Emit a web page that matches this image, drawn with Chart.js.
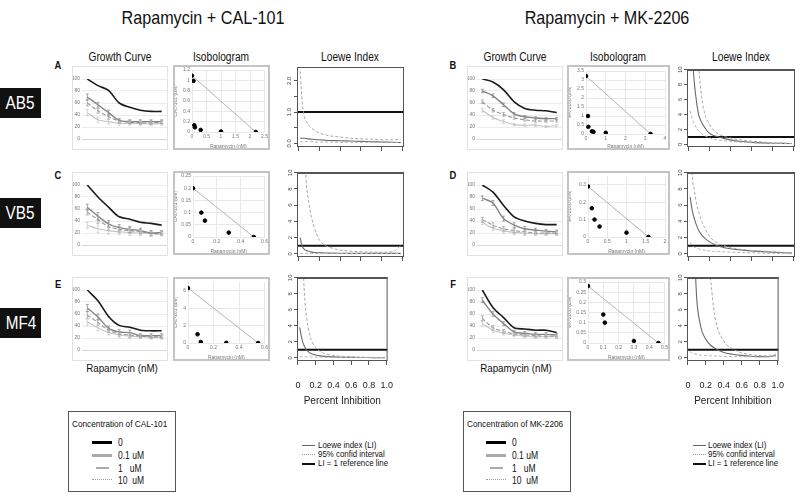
<!DOCTYPE html>
<html>
<head>
<meta charset="utf-8">
<script src="https://cdn.jsdelivr.net/npm/chart.js@4.4.1/dist/chart.umd.min.js"></script>
<style>
  body { margin: 0; width: 800px; height: 494px; position: relative; background: #fff; overflow: hidden;
         font-family: "Liberation Sans", Arial, sans-serif; color: #111; }
  canvas { position: absolute; }
  .t { position: absolute; transform: translate(-50%, -50%) scaleX(0.85); white-space: nowrap; }
  .l { position: absolute; transform: translateY(-50%) scaleX(0.85); transform-origin: left center; white-space: pre; }
  .row { position: absolute; left: 0; width: 41px; height: 30px; background: #111; color: #fff;
         font-size: 18px; line-height: 30px; text-align: center; }
  .row span { display: inline-block; transform: scaleX(0.85); }
  .box { position: absolute; border: 1px solid #555; box-sizing: border-box; }
  .smp { position: absolute; height: 0; }
</style>
</head>
<body>

<div class="t" style="left:203px;top:18px;font-size:19px">Rapamycin + CAL-101</div>
<div class="t" style="left:607px;top:18px;font-size:19px">Rapamycin + MK-2206</div>

<div class="t" style="left:120px;top:57px;font-size:12px">Growth Curve</div>
<div class="t" style="left:221px;top:57px;font-size:12px">Isobologram</div>
<div class="t" style="left:350px;top:57px;font-size:12px">Loewe Index</div>
<div class="t" style="left:515px;top:57px;font-size:12px">Growth Curve</div>
<div class="t" style="left:618px;top:57px;font-size:12px">Isobologram</div>
<div class="t" style="left:741px;top:57px;font-size:12px">Loewe Index</div>

<div class="t" style="left:58px;top:65px;font-size:11px;font-weight:bold">A</div>
<div class="t" style="left:453px;top:65px;font-size:11px;font-weight:bold">B</div>
<div class="t" style="left:58px;top:175px;font-size:11px;font-weight:bold">C</div>
<div class="t" style="left:453px;top:175px;font-size:11px;font-weight:bold">D</div>
<div class="t" style="left:58px;top:284px;font-size:11px;font-weight:bold">E</div>
<div class="t" style="left:453px;top:284px;font-size:11px;font-weight:bold">F</div>

<div class="row" style="top:88px"><span>AB5</span></div>
<div class="row" style="top:198px"><span>VB5</span></div>
<div class="row" style="top:308px"><span>MF4</span></div>

<div class="t" style="left:122px;top:368px;font-size:11.5px">Rapamycin (nM)</div>
<div class="t" style="left:516px;top:368px;font-size:11.5px">Rapamycin (nM)</div>

<div id="legends"></div>

<script>
// growth curve doses (Rapamycin, nM) and y ticks
const doses = ["0", "0.1", "0.3", "1", "3", "10", "30", "100"];
const growthTicks = [0, 20, 40, 60, 80, 100];
const concLabels = ["0", "0.1 uM", "1   uM", "10  uM"];

// growth curves, % of control: CAL-101 0 / 0.1 / 1 / 10 uM
const gA0 = [100, 89, 81, 60, 53, 48, 46, 46];
const gA01 = [70, 57, 44, 31, 29, 29, 29, 29];
const gA1 = [60, 47, 37, 30, 28, 27, 27, 28];
const gA10 = [44, 32, 29, 26, 26, 26, 25, 26];
const errA = [5, 4, 4, 3, 3, 3, 3, 3];

const gC0 = [100, 80, 63, 47, 43, 38, 36, 33];
const gC01 = [63, 48, 35, 29, 26, 24, 20, 21];
const gC1 = [55, 42, 31, 26, 24, 22, 19, 19];
const gC10 = [33, 27, 24, 22, 21, 20, 19, 18];
const errC = [5, 6, 6, 5, 5, 4, 4, 3];

const gE0 = [100, 82, 56, 41, 38, 33, 32, 32];
const gE01 = [70, 55, 36, 30, 29, 24, 24, 24];
const gE1 = [58, 46, 33, 27, 25, 23, 22, 22];
const gE10 = [47, 37, 29, 25, 23, 22, 21, 21];
const errE = [6, 5, 4, 4, 4, 3, 3, 3];

// growth curves, MK-2206 0 / 0.1 / 1 / 10 uM
const gB0 = [100, 95, 82, 62, 51, 48, 47, 44];
const gB01 = [80, 72, 57, 42, 37, 35, 34, 34];
const gB1 = [62, 48, 41, 35, 32, 30, 30, 30];
const gB10 = [48, 36, 29, 24, 23, 23, 21, 22];
const errB = [3, 3, 3, 2, 2, 2, 2, 2];

const gD0 = [100, 88, 66, 47, 40, 36, 34, 34];
const gD01 = [78, 70, 44, 33, 27, 25, 23, 22];
const gD1 = [42, 33, 27, 24, 22, 20, 20, 20];
const gD10 = [38, 28, 24, 21, 20, 19, 19, 19];
const errD = [4, 4, 4, 4, 4, 3, 3, 3];

const gF0 = [100, 71, 54, 37, 35, 33, 33, 29];
const gF01 = [83, 60, 44, 30, 28, 26, 26, 25];
const gF1 = [53, 37, 31, 27, 25, 24, 23, 23];
const gF10 = [44, 33, 28, 25, 23, 22, 22, 22];
const errF = [4, 4, 3, 3, 3, 3, 3, 3];

// isobolograms: Rapamycin (nM) vs second drug (uM)
const isoAx = [0, 0.05, 0.08, 0.1, 0.3, 1, 2.2];
const isoAy = [1.09, 0.99, 0.13, 0.09, 0.04, 0.01, 0];
const isoAxTicks = [0, 0.5, 1, 1.5, 2, 2.5];
const isoAyTicks = [0, 0.2, 0.4, 0.6, 0.8, 1, 1.2];

const isoCx = [0, 0.07, 0.1, 0.3, 0.51];
const isoCy = [0.2, 0.1, 0.067, 0.018, 0];
const isoCxTicks = [0, 0.2, 0.4, 0.6];
const isoCyTicks = [0, 0.05, 0.1, 0.15, 0.2, 0.25];

const isoEx = [0, 0.075, 0.1, 0.3, 0.55];
const isoEy = [6.3, 1.0, 0.12, 0.02, 0];
const isoExTicks = [0, 0.2, 0.4, 0.6];
const isoEyTicks = [0, 1, 2, 3, 4, 5, 6, 7];

const isoBx = [0, 0.1, 0.12, 0.3, 0.38, 1, 3.27];
const isoBy = [3.22, 1.0, 0.4, 0.15, 0.12, 0.07, 0];
const isoBxTicks = [0, 1, 2, 3, 4];
const isoByTicks = [0, 0.5, 1, 1.5, 2, 2.5, 3, 3.5];

const isoDx = [0, 0.1, 0.17, 0.3, 1, 1.57];
const isoDy = [0.29, 0.165, 0.1, 0.06, 0.025, 0];
const isoDxTicks = [0, 0.5, 1, 1.5, 2];
const isoDyTicks = [0, 0.05, 0.1, 0.15, 0.2, 0.25, 0.3, 0.35];

const isoFx = [0, 0.1, 0.11, 0.3, 0.46];
const isoFy = [0.28, 0.14, 0.1, 0.01, 0];
const isoFxTicks = [0, 0.1, 0.2, 0.3, 0.4, 0.5];
const isoFyTicks = [0, 0.05, 0.1, 0.15, 0.2, 0.25, 0.3];

// Loewe index vs percent inhibition (LI, lower and upper 95% CI)
const loeweX = [0.02, 0.04, 0.06, 0.08, 0.1, 0.13, 0.16, 0.2, 0.25, 0.3, 0.4, 0.5, 0.6, 0.7, 0.8, 0.9, 0.98];
const loeweXTicks = [0, 0.2, 0.4, 0.6, 0.8, 1];
const loeweXLabels = ["0", "0.2", "0.4", "0.6", "0.8", "1.0"];
const loeweYTicksA = [0, 0.5, 1, 1.5, 2];
const loeweYTicks = [0, 2, 4, 6, 8, 10];
const refLevel = 1;

const liA = [0.17, 0.16, 0.16, 0.15, 0.14, 0.13, 0.12, 0.11, 0.1, 0.09, 0.08, 0.07, 0.06, 0.05, 0.04, 0.03, 0.02];
const hiA = [2.3, 1.3, 0.85, 0.68, 0.58, 0.48, 0.4, 0.33, 0.28, 0.24, 0.2, 0.16, 0.14, 0.13, 0.11, 0.11, 0.13];
const loA = [0.05, 0.05, 0.05, 0.05, 0.05, 0.05, 0.04, 0.04, 0.04, 0.04, 0.03, 0.03, 0.03, 0.03, 0.03, 0.03, 0.03];

const liC = [2.0, 0.9, 0.55, 0.4, 0.3, 0.2, 0.15, 0.12, 0.1, 0.08, 0.06, 0.05, 0.05, 0.05, 0.05, 0.05, 0.05];
const hiC = [40, 22, 13, 8.6, 6.5, 4.4, 3.0, 1.8, 1.1, 0.8, 0.45, 0.32, 0.25, 0.2, 0.2, 0.24, 1.0];
const loC = [0.03, 0.03, 0.03, 0.03, 0.03, 0.03, 0.03, 0.03, 0.02, 0.02, 0.02, 0.02, 0.02, 0.02, 0.02, 0.02, 0.02];

const liE = [3.8, 2.6, 1.8, 1.3, 0.95, 0.65, 0.48, 0.35, 0.24, 0.18, 0.11, 0.07, 0.05, 0.04, 0.03, 0.02, 0.02];
const hiE = [40, 22, 11.5, 7.0, 4.9, 3.0, 2.0, 1.25, 0.8, 0.54, 0.3, 0.18, 0.12, 0.08, 0.05, 0.03, 0.02];
const loE = [0.15, 0.14, 0.13, 0.12, 0.12, 0.11, 0.1, 0.1, 0.09, 0.08, 0.07, 0.06, 0.05, 0.05, 0.04, 0.04, 0.04];

const liB = [20, 12, 8.2, 5.7, 4.0, 2.9, 2.2, 1.5, 1.15, 0.95, 0.6, 0.38, 0.27, 0.2, 0.16, 0.14, 0.12];
const hiB = [40, 30, 22, 15, 10.5, 6.2, 4.0, 2.7, 1.8, 1.3, 0.85, 0.6, 0.42, 0.32, 0.22, 0.16, 0.13];
const loB = [4.5, 3.4, 2.7, 2.2, 1.8, 1.45, 1.15, 0.9, 0.65, 0.55, 0.4, 0.3, 0.22, 0.17, 0.13, 0.1, 0.09];

const liD = [7.0, 5.3, 4.3, 3.5, 2.9, 2.3, 1.9, 1.5, 1.15, 0.9, 0.62, 0.47, 0.34, 0.27, 0.19, 0.12, 0.08];
const hiD = [20, 10, 7.8, 6.2, 5.2, 4.0, 3.1, 2.2, 1.55, 1.2, 0.75, 0.55, 0.42, 0.32, 0.25, 0.17, 0.12];
const loD = [1.4, 1.0, 0.8, 0.7, 0.6, 0.5, 0.42, 0.35, 0.3, 0.27, 0.2, 0.15, 0.12, 0.08, 0.05, 0.03, 0.0];

const liF = [40, 25, 17, 11.5, 7.1, 4.6, 3.2, 2.3, 1.6, 1.2, 0.65, 0.45, 0.3, 0.2, 0.15, 0.13, 0.3];
const hiF = [100, 80, 60, 50, 40, 32, 25, 17, 10.2, 5.2, 2.1, 1.1, 0.62, 0.4, 0.28, 0.25, 0.25];
const loF = [0.8, 0.65, 0.55, 0.47, 0.42, 0.36, 0.32, 0.28, 0.25, 0.22, 0.18, 0.15, 0.13, 0.12, 0.11, 0.12, 0.5];

Chart.defaults.font.family = "'Liberation Sans', Arial, sans-serif";
Chart.defaults.animation = false;
Chart.defaults.responsive = false;
Chart.defaults.devicePixelRatio = 1;
Chart.defaults.plugins.legend.display = false;
Chart.defaults.plugins.tooltip.enabled = false;

// frame round the canvas and box round the plot area
Chart.register({
  id: "frames",
  afterDraw(chart, args, opts) {
    const { ctx, chartArea: a } = chart;
    ctx.save();
    if (opts.frame) {
      ctx.strokeStyle = opts.frame;
      ctx.lineWidth = opts.frameWidth || 1;
      const h = ctx.lineWidth / 2;
      ctx.strokeRect(h, h, chart.width - 2 * h, chart.height - 2 * h);
    }
    if (opts.box) {
      ctx.strokeStyle = opts.box;
      ctx.lineWidth = 1;
      ctx.strokeRect(a.left + 0.5, a.top + 0.5, a.right - a.left - 1, a.bottom - a.top - 1);
      if (opts.topWidth) {
        ctx.lineWidth = opts.topWidth;
        ctx.beginPath();
        ctx.moveTo(a.left, a.top + 1);
        ctx.lineTo(a.right, a.top + 1);
        ctx.stroke();
      }
    }
    ctx.restore();
  },
});

// vertical error bars for datasets carrying an `errors` array
Chart.register({
  id: "errorBars",
  afterDatasetsDraw(chart) {
    const { ctx } = chart;
    const y = chart.scales.y;
    chart.data.datasets.forEach((ds, i) => {
      if (!ds.errors) return;
      ctx.save();
      ctx.strokeStyle = ds.borderColor;
      ctx.lineWidth = 0.7;
      chart.getDatasetMeta(i).data.forEach((pt, j) => {
        const v = ds.data[j];
        const y1 = y.getPixelForValue(v + ds.errors[j]);
        const y2 = y.getPixelForValue(v - ds.errors[j]);
        ctx.beginPath();
        ctx.moveTo(pt.x, y1); ctx.lineTo(pt.x, y2);
        ctx.moveTo(pt.x - 1.5, y1); ctx.lineTo(pt.x + 1.5, y1);
        ctx.moveTo(pt.x - 1.5, y2); ctx.lineTo(pt.x + 1.5, y2);
        ctx.stroke();
      });
      ctx.restore();
    });
  },
});

function addCanvas(left, top, w, h) {
  const c = document.createElement("canvas");
  c.width = w;
  c.height = h;
  c.style.left = left + "px";
  c.style.top = top + "px";
  document.body.appendChild(c);
  return c;
}

const setTicks = (values) => (scale) => {
  scale.ticks = values.map((v) => ({ value: v }));
};

const growthStyles = [
  { color: "#1a1a1a", width: 1.6, dash: [] },
  { color: "#858585", width: 1.4, dash: [] },
  { color: "#999", width: 1.1, dash: [4, 2] },
  { color: "#c4c4c4", width: 1.1, dash: [] },
];

function growthChart(left, top, series, errs) {
  new Chart(addCanvas(left, top, 96, 84), {
    type: "line",
    data: {
      labels: doses,
      datasets: series.map((vals, i) => ({
        data: vals,
        borderColor: growthStyles[i].color,
        borderWidth: growthStyles[i].width,
        borderDash: growthStyles[i].dash,
        pointRadius: 0,
        tension: 0.3,
        errors: i > 0 ? errs : null,
      })),
    },
    options: {
      layout: { padding: { top: 13, right: 1, left: 0, bottom: 0 } },
      plugins: { frames: { frame: "#e2e2e2" } },
      scales: {
        x: {
          offset: true,
          grid: { display: false },
          border: { color: "#d6d6d6" },
          ticks: { font: { size: 5 }, color: "#777", padding: 2, maxRotation: 0, autoSkip: false },
          afterFit: (s) => { s.height = 11; },
        },
        y: {
          min: 0,
          max: 100,
          afterBuildTicks: setTicks(growthTicks),
          grid: { color: "#ececec", drawTicks: false },
          border: { display: false },
          ticks: { font: { size: 5 }, color: "#777", padding: 2 },
          afterFit: (s) => { s.width = 10; },
        },
      },
    },
  });
}

function isoChart(left, top, w, h, xs, ys, xTicks, yTicks, yTitle, leftW, topPad, bottomH) {
  const pts = xs.map((x, i) => ({ x, y: ys[i] }));
  const last = pts.length - 1;
  new Chart(addCanvas(left, top, w, h), {
    type: "scatter",
    data: {
      datasets: [
        {
          data: pts,
          backgroundColor: "#000",
          borderColor: "#000",
          pointRadius: 1.8,
        },
        {
          type: "line",
          data: [pts[0], pts[last]],
          borderColor: "#b4b4b4",
          borderWidth: 1,
          pointRadius: 0,
        },
      ],
    },
    options: {
      layout: { padding: { top: topPad, right: 3, left: 0, bottom: 0 } },
      plugins: { frames: { frame: "#c4c4c4", frameWidth: 2 } },
      scales: {
        x: {
          type: "linear",
          min: xTicks[0],
          max: xTicks[xTicks.length - 1],
          afterBuildTicks: setTicks(xTicks),
          grid: { color: "#e8e8e8", drawTicks: false },
          border: { display: false },
          ticks: { font: { size: 5 }, color: "#777", padding: 2, maxRotation: 0, callback: (v) => String(v) },
          title: { display: true, text: "Rapamycin (nM)", font: { size: 5 }, color: "#777", padding: 0 },
          afterFit: (s) => { s.height = bottomH; },
        },
        y: {
          min: yTicks[0],
          max: yTicks[yTicks.length - 1],
          afterBuildTicks: setTicks(yTicks),
          grid: { color: "#e8e8e8", drawTicks: false },
          border: { display: false },
          ticks: { font: { size: 5 }, color: "#777", padding: 2, callback: (v) => String(v) },
          title: { display: true, text: yTitle, font: { size: 5 }, color: "#777", padding: 0 },
          afterFit: (s) => { s.width = leftW; },
        },
      },
    },
  });
}

function loeweChart(left, top, w, h, boxTop, boxBottom, li, lo, hi, yMin, yMax, yTicks, yLabel, bottom, thickTop) {
  const line = (vals, color, width, dash) => ({
    data: loeweX.map((x, i) => ({ x, y: vals[i] })),
    borderColor: color,
    borderWidth: width,
    borderDash: dash,
    pointRadius: 0,
    cubicInterpolationMode: "monotone",
  });
  const xMin = -0.01, xMax = 1.01;
  new Chart(addCanvas(left, top, w, h), {
    type: "line",
    data: {
      datasets: [
        line(hi, "#a8a8a8", 1, [3, 2]),
        line(lo, "#b4b4b4", 1, [3, 2]),
        line(li, "#6a6a6a", 1.1, []),
        {
          data: [{ x: xMin, y: refLevel }, { x: xMax, y: refLevel }],
          borderColor: "#111",
          borderWidth: 2,
          pointRadius: 0,
        },
      ],
    },
    options: {
      layout: { padding: { top: boxTop - top, right: 4, left: 0, bottom: 0 } },
      plugins: { frames: { box: "#555", topWidth: thickTop ? 2 : 0 } },
      scales: {
        x: {
          type: "linear",
          min: xMin,
          max: xMax,
          afterBuildTicks: setTicks(loeweXTicks),
          grid: { drawOnChartArea: false, tickLength: 4, color: "#555" },
          border: { display: false },
          ticks: {
            display: bottom,
            font: { size: 9 },
            color: "#222",
            padding: 15,
            maxRotation: 0,
            callback: (v, i) => loeweXLabels[i],
          },
          title: { display: bottom, text: "Percent Inhibition", font: { size: 10 }, color: "#222", padding: { top: 0, bottom: 5 } },
          afterFit: (s) => { s.height = top + h - boxBottom; },
        },
        y: {
          min: yMin,
          max: yMax,
          afterBuildTicks: setTicks(yTicks),
          grid: { drawOnChartArea: false, tickLength: 3, color: "#555" },
          border: { display: false },
          ticks: { font: { size: 6 }, color: "#444", padding: 0, minRotation: 90, maxRotation: 90, crossAlign: "center", callback: yLabel },
          afterFit: (s) => { s.width = 19; },
        },
      },
    },
  });
}

const labelA = (v) => (v % 1 === 0 ? v.toFixed(1) : "");
const labelInt = (v) => String(v);

// left half: Rapamycin + CAL-101
growthChart(72, 66, [gA0, gA01, gA1, gA10], errA);
growthChart(72, 172, [gC0, gC01, gC1, gC10], errC);
growthChart(72, 277, [gE0, gE01, gE1, gE10], errE);
isoChart(173, 65, 97, 85, isoAx, isoAy, isoAxTicks, isoAyTicks, "CAL-101 (uM)", 19, 5, 18);
isoChart(173, 171, 97, 84, isoCx, isoCy, isoCxTicks, isoCyTicks, "CAL-101 (uM)", 20, 4, 18);
isoChart(173, 277, 97, 84, isoEx, isoEy, isoExTicks, isoEyTicks, "CAL-101 (uM)", 15, 3, 18);
loeweChart(278, 60, 130, 100, 67, 147, liA, loA, hiA, -0.12, 2.44, loeweYTicksA, labelA, false, false);
loeweChart(278, 166, 130, 100, 172, 257, liC, loC, hiC, -0.4, 10.1, loeweYTicks, labelInt, false, true);
loeweChart(278, 272, 130, 140, 277, 361, liE, loE, hiE, -0.4, 10.1, loeweYTicks, labelInt, true, true);

// right half: Rapamycin + MK-2206
growthChart(467, 66, [gB0, gB01, gB1, gB10], errB);
growthChart(467, 172, [gD0, gD01, gD1, gD10], errD);
growthChart(467, 277, [gF0, gF01, gF1, gF10], errF);
isoChart(567, 65, 103, 85, isoBx, isoBy, isoBxTicks, isoByTicks, "MK-2206 (uM)", 19, 6, 16);
isoChart(567, 171, 103, 84, isoDx, isoDy, isoDxTicks, isoDyTicks, "MK-2206 (uM)", 21, 4, 18);
isoChart(567, 277, 103, 84, isoFx, isoFy, isoFxTicks, isoFyTicks, "MK-2206 (uM)", 21, 4, 18);
loeweChart(668, 62, 131, 100, 69, 147, liB, loB, hiB, -0.35, 10.1, loeweYTicks, labelInt, false, true);
loeweChart(668, 166, 131, 100, 172, 257, liD, loD, hiD, -0.4, 10.1, loeweYTicks, labelInt, false, true);
loeweChart(668, 272, 131, 140, 277, 361, liF, loF, hiF, -0.4, 10.1, loeweYTicks, labelInt, true, true);

// legends
const concSamples = [
  "border-top:3px solid #000;width:20px",
  "border-top:3px solid #aaa;width:20px",
  "border-top:2px solid #aaa;width:13px;margin-left:4px",
  "border-top:1px dotted #999;width:20px",
];
const loeweLegend = [
  ["border-top:1px solid #666;width:13px", "Loewe index (LI)"],
  ["border-top:1px dotted #999;width:13px", "95% confid interval"],
  ["border-top:2px solid #111;width:13px", "LI = 1 reference line"],
];
const legendRoot = document.getElementById("legends");
function concLegend(left, drug, sampleLeft, textLeft) {
  let html = `<div class="box" style="left:${left}px;top:411px;width:108px;height:81px"></div>`;
  html += `<div class="l" style="left:${left + 4}px;top:423px;font-size:9.7px">Concentration of ${drug}</div>`;
  concLabels.forEach((lab, i) => {
    const y = 442 + i * 12.8;
    html += `<div class="smp" style="left:${sampleLeft}px;top:${y - 1}px;${concSamples[i]}"></div>`;
    html += `<div class="l" style="left:${textLeft}px;top:${y}px;font-size:10px">${lab}</div>`;
  });
  legendRoot.insertAdjacentHTML("beforeend", html);
}
function liLegend(sampleLeft, textLeft) {
  let html = "";
  loeweLegend.forEach(([style, lab], i) => {
    const y = 445 + i * 9;
    html += `<div class="smp" style="left:${sampleLeft}px;top:${y}px;${style}"></div>`;
    html += `<div class="l" style="left:${textLeft}px;top:${y}px;font-size:9.3px">${lab}</div>`;
  });
  legendRoot.insertAdjacentHTML("beforeend", html);
}
concLegend(68, "CAL-101", 92, 118);
concLegend(463, "MK-2206", 486, 512);
liLegend(302, 318);
liLegend(693, 708);
</script>
</body>
</html>
